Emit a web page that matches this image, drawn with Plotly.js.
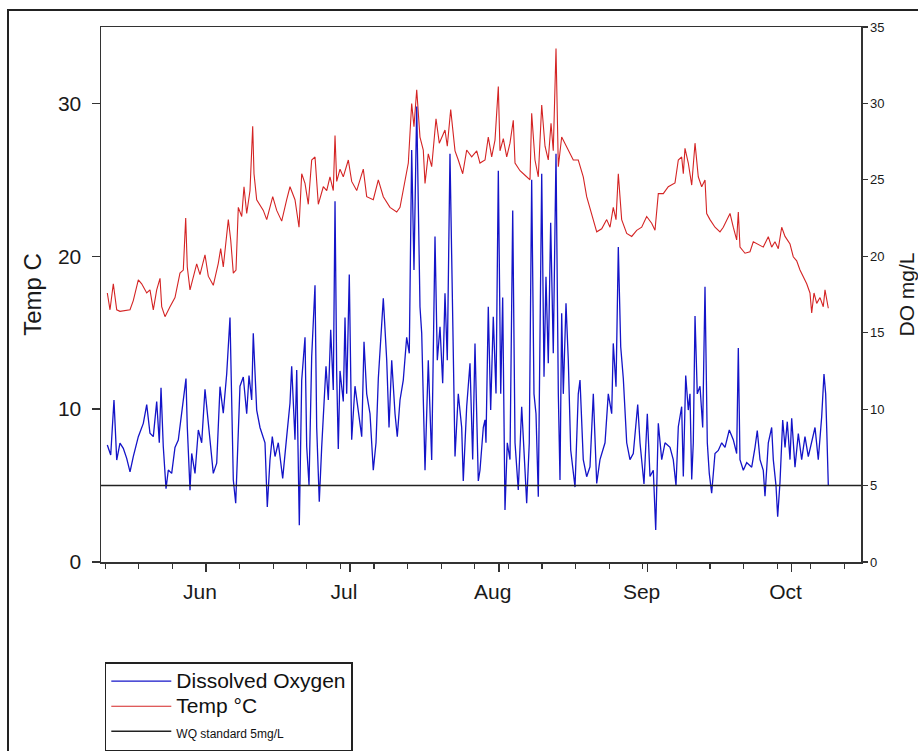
<!DOCTYPE html>
<html>
<head>
<meta charset="utf-8">
<script src="https://cdn.plot.ly/plotly-3.0.1.min.js"></script>
<style>
  html, body { margin: 0; padding: 0; background: #ffffff; overflow: hidden; }
  #wrap { position: relative; width: 918px; height: 751px; }
  #frame { position: absolute; left: 7px; top: 9px; width: 940px; height: 780px; border: 2px solid #222; pointer-events: none; }
  #chart { position: absolute; left: 0; top: 0; width: 918px; height: 751px; }
</style>
</head>
<body>
<div id="wrap">
  <div id="chart"></div>
  <div id="frame"></div>
</div>
<script>
// Time is in days since 1 May (fractional).
const tempDay = [10.44,11.0,11.69,12.4,13.08,14.13,15.17,15.85,16.9,17.6,18.65,19.33,20.02,20.73,21.42,21.77,22.46,23.5,24.54,25.58,26.27,26.77,27.1,27.67,28.35,29.06,29.75,30.79,31.48,32.52,33.56,34.06,34.6,35.65,36.15,36.69,37.25,37.73,38.44,38.92,39.48,40.17,40.73,41.0,41.56,42.94,43.65,44.9,45.73,46.77,47.81,48.5,49.54,50.38,50.94,51.63,52.31,53.02,53.71,54.4,55.44,56.15,56.83,57.52,57.88,58.23,58.92,59.6,60.65,61.35,62.4,63.77,64.48,65.85,66.9,67.94,69.33,70.73,71.42,72.46,73.15,73.85,74.33,74.9,75.58,76.27,76.63,77.31,78.02,78.92,79.6,80.79,81.27,81.98,82.88,83.56,84.48,85.31,86.35,87.4,88.08,89.13,89.81,90.52,91.21,91.9,92.25,92.94,93.65,94.33,95.02,95.38,96.42,97.46,98.5,98.85,99.54,100.23,100.94,101.63,102.31,102.88,103.35,103.92,104.4,105.1,105.79,106.48,107.52,108.56,109.6,110.31,111.35,112.4,113.44,114.48,115.17,115.85,116.42,116.9,117.6,118.65,119.69,120.73,121.77,122.81,123.85,124.54,125.23,126.27,127.31,128.71,129.4,130.1,130.44,130.79,131.48,132.19,132.88,133.56,134.27,134.96,135.31,136.0,137.04,138.08,138.77,139.48,140.17,140.85,141.56,141.9,142.25,143.29,144.33,145.02,146.06,147.1,148.15,148.85,149.54,150.23,150.94,151.63,152.67,153.35,154.06,154.75,155.44,156.15,156.83,157.19,157.67,158.23,158.92,159.6,159.96,160.65];
const tempValues = [17.6,16.5,18.2,16.5,16.4,16.45,16.5,17.1,18.45,18.2,17.6,17.8,16.5,17.8,18.56,16.7,16.05,16.7,17.3,18.9,19.1,22.5,19.3,17.8,18.66,19.5,18.8,20.1,18.7,18.1,19.54,20.5,19.3,22.4,21.07,18.9,19.1,23.2,22.6,24.55,22.8,24.3,28.5,25.4,23.7,23.0,22.4,23.9,23.0,22.3,23.7,24.55,23.7,21.9,25.4,24.77,23.4,26.3,26.5,23.4,24.55,24.3,25.2,24.3,27.9,24.9,25.7,25.2,26.3,24.9,24.3,25.7,23.9,23.7,25.0,23.9,23.2,22.9,23.2,25.0,26.1,30.0,28.48,30.9,27.8,26.95,24.77,26.7,25.86,29.0,27.4,28.26,27.2,29.6,26.9,26.3,25.4,26.95,26.5,26.9,26.1,26.3,27.8,26.5,27.6,31.1,26.9,27.7,26.5,27.4,28.9,26.1,25.6,25.3,25.0,29.35,26.3,25.2,29.9,27.2,26.3,28.7,26.9,33.6,25.86,27.8,27.4,26.9,26.3,26.3,25.2,23.9,22.8,21.6,21.8,22.4,21.9,23.2,22.4,25.4,22.4,21.5,21.3,21.7,21.9,22.6,22.16,21.7,24.1,24.1,24.55,24.8,26.3,26.5,25.4,27.06,26.1,24.66,27.4,25.2,24.55,24.99,22.8,22.4,21.9,21.6,21.9,22.4,22.8,21.9,21.07,22.9,20.6,20.2,20.3,20.95,20.8,20.6,21.28,20.6,20.95,20.5,21.9,21.3,20.8,19.97,19.7,19.1,18.66,18.2,17.6,16.3,17.6,16.92,17.3,16.7,17.8,16.6];

const doDay = [10.44,11.15,11.83,12.4,13.08,13.77,14.48,15.17,15.85,16.9,17.94,18.65,19.33,20.02,20.73,21.27,21.63,22.1,22.67,23.15,23.85,24.54,25.23,25.94,26.83,27.1,27.67,28.02,28.71,29.4,30.1,30.79,31.48,32.52,33.23,33.92,34.6,35.31,36.0,36.35,36.69,37.19,37.73,38.08,38.77,39.48,39.96,40.52,40.85,41.56,42.25,43.29,43.77,44.33,44.81,45.38,46.06,46.98,47.81,48.5,48.85,49.2,49.54,49.9,50.44,50.94,51.63,51.98,52.46,53.02,53.71,54.06,54.6,55.1,56.0,56.48,56.98,57.52,57.88,58.23,58.56,58.92,59.6,59.96,60.31,60.85,61.35,62.04,62.73,63.44,63.92,64.48,65.17,65.85,66.42,66.9,67.94,68.65,69.13,69.69,70.38,70.85,71.42,72.1,72.81,73.35,73.85,74.33,74.9,75.23,75.58,75.94,76.63,77.31,78.02,78.71,79.19,79.75,80.31,80.79,81.27,81.83,82.31,82.88,83.56,84.27,84.6,85.31,86.0,86.56,87.04,87.73,88.08,88.44,88.77,89.13,89.33,89.81,90.31,90.85,91.42,91.9,92.4,92.81,93.29,93.77,94.33,94.9,95.38,96.06,96.77,97.46,97.81,98.35,98.85,99.33,99.75,100.23,100.94,101.42,101.83,102.31,102.81,103.35,103.92,104.4,104.75,105.1,105.44,106.0,106.48,106.98,107.88,108.56,108.92,109.6,110.31,111.0,111.69,112.4,113.08,114.13,114.81,115.52,115.85,116.42,116.9,117.4,117.94,118.65,119.33,120.02,120.94,121.42,122.25,122.94,123.5,124.19,124.69,125.23,125.94,126.63,127.67,128.35,128.92,129.4,130.1,130.44,130.94,131.48,131.83,132.19,132.52,132.88,133.35,133.92,134.48,134.96,135.44,135.85,136.35,137.04,137.73,138.44,139.13,140.02,140.85,141.56,141.9,142.25,142.94,143.65,144.69,145.38,145.85,146.42,147.1,147.46,148.15,148.85,149.19,149.75,150.1,150.58,151.15,151.63,152.1,152.67,153.02,153.71,154.4,155.1,155.79,156.48,157.19,157.88,158.56,159.27,159.75,160.1,160.31,160.65];
const doValues = [7.65,7.0,10.6,6.67,7.77,7.44,6.78,5.9,6.89,8.2,9.07,10.3,8.42,8.2,10.49,7.8,11.4,7.55,4.8,6.02,5.8,7.5,7.98,9.73,12.0,8.85,4.7,7.1,5.8,8.64,7.8,11.3,8.9,5.8,6.46,11.47,9.73,12.3,16.0,11.03,5.36,3.84,8.9,11.5,12.1,9.7,12.2,10.6,14.96,9.94,8.8,7.8,3.6,6.67,8.2,6.9,7.8,5.47,8.2,10.4,12.8,10.4,8.0,12.56,2.4,11.9,14.7,7.55,5.04,13.43,18.1,8.8,3.95,7.5,12.8,10.6,15.2,11.25,23.6,12.34,7.4,12.5,10.5,16.0,11.0,18.8,8.0,11.5,9.7,8.2,14.4,11.0,9.7,6.0,7.8,12.0,17.25,13.2,8.8,13.2,9.7,8.2,10.6,11.9,14.7,13.65,26.95,19.1,29.8,21.9,16.7,14.96,6.0,13.2,6.67,21.3,13.2,15.39,11.69,17.58,13.2,26.7,17.14,6.9,11.0,8.8,5.3,10.16,13.0,6.7,14.3,5.3,6.0,7.8,8.8,9.3,7.8,16.7,9.94,16.05,11.03,25.6,11.0,17.3,3.4,7.8,6.7,23.0,7.8,4.71,10.16,6.0,3.84,7.8,25.0,11.0,9.7,4.27,25.4,12.12,18.66,13.0,22.2,13.65,26.7,11.0,5.36,16.27,11.0,16.92,13.2,7.33,4.9,11.0,11.9,6.7,5.58,6.23,11.0,5.14,6.7,7.8,11.0,9.7,14.3,11.47,20.6,14.08,12.0,7.8,6.7,7.1,10.3,7.8,5.1,9.7,5.6,6.0,2.1,9.07,6.7,7.8,7.5,6.7,5.0,8.85,10.16,5.6,12.2,9.94,11.0,5.4,7.8,16.1,11.0,11.5,8.8,18.0,7.8,5.8,4.5,7.1,7.3,7.8,7.5,8.64,8.0,7.1,14.0,6.7,6.0,6.5,6.2,7.5,8.6,6.7,6.0,4.3,7.8,8.8,6.7,5.0,2.96,5.2,9.29,7.5,9.18,6.7,9.4,6.2,8.4,6.7,8.2,6.9,7.8,8.8,6.7,9.5,12.3,11.0,8.8,5.0];

// WQ standard line (5 mg/L) across the whole period shown
const wqDay = [9.125, 167.46];
const wqValues = [5, 5];

const monthTickDates = ['2013-06-01','2013-07-01','2013-08-01','2013-09-01','2013-10-01'];
const monthTickLabels = ['Jun','Jul','Aug','Sep','Oct'];
const leftTicks = [0, 10, 20, 30];

const DAY = 86400000;
const BASE = Date.UTC(2013, 4, 1);
function toDate(d) { return new Date(BASE + d * DAY).toISOString().slice(0, 19).replace('T', ' '); }

const FONT = 'Liberation Sans, Arial, sans-serif';
const AX = '#333333';

const traces = [
  {
    name: '<span style="font-size:21px">Dissolved Oxygen</span>',
    x: doDay.map(toDate), y: doValues,
    xaxis: 'x', yaxis: 'y2',
    type: 'scatter', mode: 'lines',
    line: { color: '#1414c8', width: 1.3 }
  },
  {
    name: '<span style="font-size:21px">Temp °C</span>',
    x: tempDay.map(toDate), y: tempValues,
    xaxis: 'x', yaxis: 'y',
    type: 'scatter', mode: 'lines',
    line: { color: '#d42424', width: 1.1 }
  },
  {
    name: '<span style="font-size:12px">WQ standard 5mg/L</span>',
    x: wqDay.map(toDate), y: wqValues,
    xaxis: 'x', yaxis: 'y2',
    type: 'scatter', mode: 'lines',
    line: { color: '#222222', width: 1.5 }
  }
];

const layout = {
  width: 918, height: 751,
  margin: { l: 101, r: 57, t: 27, b: 189, pad: 0, autoexpand: false },
  paper_bgcolor: 'rgba(0,0,0,0)',
  plot_bgcolor: '#ffffff',
  font: { family: FONT, color: '#1a1a1a' },
  showlegend: true,
  legend: {
    x: 0.005, y: -0.187, xanchor: 'left', yanchor: 'top',
    bgcolor: '#ffffff', bordercolor: '#222222', borderwidth: 1.5,
    font: { family: FONT, size: 17, color: '#111111' },
    itemwidth: 60,
    tracegroupgap: 0
  },
  xaxis: {
    type: 'date',
    range: [toDate(9.125), toDate(167.46)],
    tickmode: 'array', tickvals: monthTickDates, ticktext: monthTickLabels,
    ticks: 'outside', ticklen: 8, tickwidth: 1.5, tickcolor: AX,
    ticklabelshift: -6, ticklabelstandoff: 2,
    tickfont: { family: FONT, size: 21, color: '#1a1a1a' },
    showline: true, linecolor: AX, linewidth: 1.5, mirror: true,
    showgrid: false, zeroline: false,
    minor: { tickmode: 'linear', tick0: '2013-05-11', dtick: 7 * DAY, ticks: 'outside', ticklen: 5, tickwidth: 1.2, tickcolor: AX, showgrid: false }
  },
  yaxis: {
    range: [0, 35],
    tickmode: 'array', tickvals: leftTicks,
    ticks: 'outside', ticklen: 8, tickwidth: 1.5, tickcolor: AX,
    ticklabelstandoff: 6,
    tickfont: { family: FONT, size: 21, color: '#1a1a1a' },
    showline: true, linecolor: AX, linewidth: 1.5,
    showgrid: false, zeroline: false,
    title: { text: 'Temp C', font: { family: FONT, size: 24, color: '#1a1a1a' }, standoff: 9 }
  },
  yaxis2: {
    overlaying: 'y', side: 'right', anchor: 'x',
    range: [0, 35], tickmode: 'linear', tick0: 0, dtick: 5,
    ticks: 'outside', ticklen: 5, tickwidth: 1.2, tickcolor: AX,
    tickfont: { family: FONT, size: 13, color: '#1a1a1a' },
    showline: true, linecolor: AX, linewidth: 1.5,
    showgrid: false, zeroline: false,
    title: { text: 'DO mg/L', font: { family: FONT, size: 21, color: '#1a1a1a' }, standoff: 24 }
  }
};

Plotly.newPlot('chart', traces, layout, { displayModeBar: false, staticPlot: true });
</script>
</body>
</html>
